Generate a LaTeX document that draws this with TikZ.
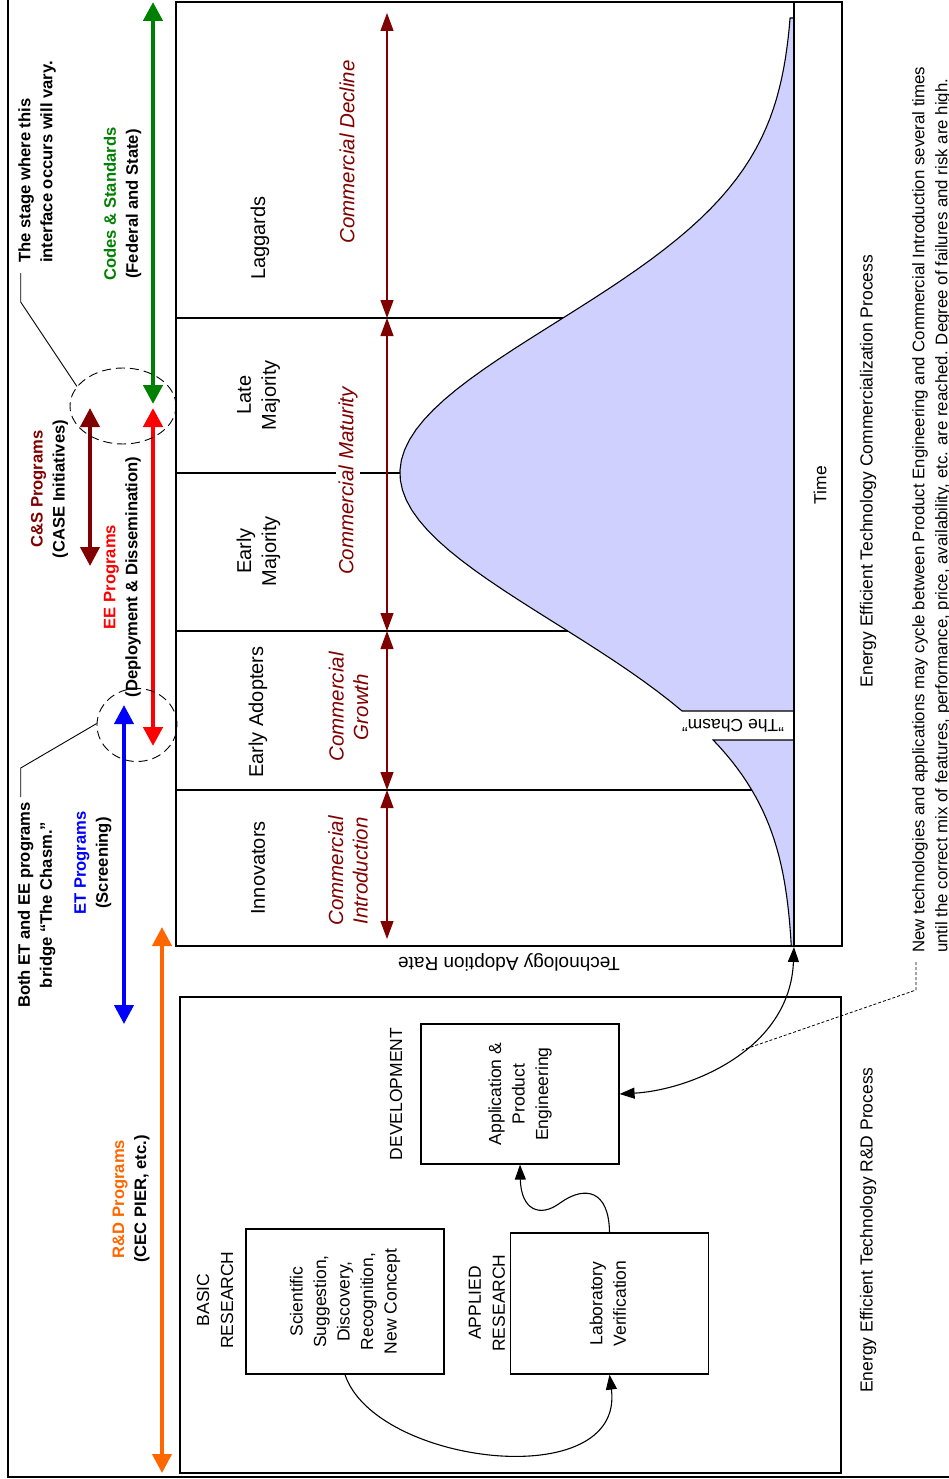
\documentclass[tikz,border=0pt]{standalone}
\usepackage{fontspec}
\usepackage{graphicx}
\setmainfont{Liberation Sans}
\usetikzlibrary{arrows.meta,shapes.geometric}
\definecolor{dred}{RGB}{128,0,0}
\definecolor{ored}{RGB}{255,0,0}
\definecolor{ogreen}{RGB}{0,128,0}
\definecolor{oblue}{RGB}{0,0,255}
\definecolor{orng}{RGB}{255,102,0}
\definecolor{bell}{RGB}{208,208,255}
\begin{document}
\begin{tikzpicture}[x=1pt,y=-1pt,
  txt/.style={font=\fontsize{17.5}{24}\selectfont, rotate=90, align=center, inner sep=1pt},
  flat/.style={font=\fontsize{19}{24}\selectfont, align=center, inner sep=1pt},
  chartlbl/.style={font=\fontsize{20}{25}\selectfont, rotate=90, align=center, inner sep=1pt},
  btxt/.style={font=\fontsize{16.6}{22}\selectfont\bfseries, rotate=90, align=center, inner sep=0pt},
  phase/.style={rotate=90, align=center, inner sep=1pt, text=dred, font=\fontsize{20.5}{24.5}\selectfont\itshape},
  box/.style={draw, line width=1.2pt, inner sep=0pt, font=\fontsize{17.5}{23.5}\selectfont},
  frame/.style={draw, line width=1.2pt},
  divider/.style={draw, line width=1.2pt},
  stagearrow/.style={draw=dred, line width=1.2pt, {Triangle[length=18pt,width=13pt]}-{Triangle[length=18pt,width=13pt]}},
  prog/.style={line width=4.5pt, {Triangle[length=19pt,width=19pt]}-{Triangle[length=19pt,width=19pt]}},
  flow/.style={draw, line width=1.1pt, -{Triangle[length=15pt,width=11pt]}},
  flowboth/.style={draw, line width=1.1pt, {Triangle[length=15pt,width=11pt]}-{Triangle[length=15pt,width=11pt]}},
  leader/.style={draw, line width=0.9pt},
  dashleader/.style={draw, line width=0.8pt, dash pattern=on 3pt off 2pt},
  ring/.style={draw, ellipse, line width=0.9pt, dash pattern=on 9pt off 5pt, inner sep=0pt}
]
\useasboundingbox (0,0) rectangle (949,1479);

% outer frame and boxes
\draw[line width=1.5pt] (8,-10) rectangle (975,1477);
\draw[frame] (176,2) rectangle (842,946);
\draw[frame] (180,997) rectangle (841,1473);

% bell curve
\filldraw[fill=bell, draw=black, line width=1.1pt] (794,18)
  -- plot[domain=18:711, samples=70] ({794-394*exp(-0.5*((\x-473)/150)^2)}, \x)
  -- (794,711) -- cycle;
\filldraw[fill=bell, draw=black, line width=1.1pt] (794,740)
  -- plot[domain=740:946, samples=30] ({794-394*exp(-0.5*((\x-473)/150)^2)}, \x)
  -- (794,946) -- cycle;
\draw[line width=1.2pt] (794,2) -- (794,946);

% stage dividers
\draw[divider] (176,318) -- (563,318);
\draw[divider] (176,473) -- (400,473);
\draw[divider] (176,631) -- (568,631);
\draw[divider] (176,790) -- (752,790);

% stage arrows
\coordinate (s0) at (387,13);
\coordinate (s1) at (387,318);
\coordinate (s2) at (387,631);
\coordinate (s3) at (387,790);
\coordinate (s4) at (387,939);
\draw[stagearrow] (s0) -- (s1);
\draw[stagearrow] (s1) -- (s2);
\draw[stagearrow] (s2) -- (s3);
\draw[stagearrow] (s3) -- (s4);

% adopter labels
\node[chartlbl] (lag) at (260,238) {Laggards};
\node[chartlbl] (late) at (258.5,395) {Late\\Majority};
\node[chartlbl] (early) at (258.5,551) {Early\\Majority};
\node[chartlbl] (adopt) at (258,712) {Early Adopters};
\node[chartlbl] (innov) at (258,868) {Innovators};

% phase labels
\node[phase] (decl) at (347,152) {Commercial Decline};
\node[phase, fill=white, inner sep=2pt] (matur) at (348,481) {Commercial Maturity};
\node[phase] (growth) at (348.5,707) {Commercial\\Growth};
\node[phase] (intro) at (348,871) {Commercial\\Introduction};

\node[txt] (time) at (820,485) {Time};
\node[flat, rotate=180] (rate) at (509,962) {Technology Adoption Rate};
\node[flat, font=\fontsize{17.5}{22}\selectfont, rotate=180] (chasm) at (733,726) {"The Chasm"};

% titles
\node[txt] (ctitle) at (868,471) {Energy Efficient Technology Commercialization Process};
\node[txt] (rtitle) at (868,1230) {Energy Efficient Technology R\&D Process};

% note
\node[rotate=90, anchor=west, align=left, inner sep=0pt, font=\fontsize{16.8}{23}\selectfont] (note) at (931.5,953)
  {New technologies and applications may cycle between Product Engineering and Commercial Introduction several times\\
   until the correct mix of features, performance, price, availability, etc. are reached. Degree of failures and risk are high.};

% program arrows
\coordinate (g1) at (153,2);   \coordinate (g2) at (153,404);
\coordinate (r1) at (153,408); \coordinate (r2) at (153,746);
\coordinate (c1) at (90,408);  \coordinate (c2) at (90,566);
\coordinate (b1) at (124,705); \coordinate (b2) at (124,1024);
\coordinate (o1) at (162,927); \coordinate (o2) at (162,1473);
\draw[prog, ogreen] (g1) -- (g2);
\draw[prog, ored] (r1) -- (r2);
\draw[prog, dred, line width=4pt] (c1) -- (c2);
\draw[prog, oblue, line width=4pt] (b1) -- (b2);
\draw[prog, orng, line width=4pt] (o1) -- (o2);

% interface rings
\node[ring, minimum width=106, minimum height=76] (ringA) at (123,406) {};
\node[ring, minimum width=80, minimum height=73] (ringB) at (137,725) {};

% program labels
\node[btxt, align=left, anchor=west] (stage) at (37,263) {The stage where this\\interface occurs will vary.};
\node[btxt] (codes) at (122.5,204) {\textcolor{ogreen}{Codes \& Standards}\\(Federal and State)};
\node[btxt] (cs) at (49.5,489) {\textcolor{dred}{C\&S Programs}\\(CASE Initiatives)};
\node[btxt] (ee) at (122.5,577) {\textcolor{ored}{EE Programs}\\(Deployment \& Dissemination)};
\node[btxt] (both) at (36.5,905) {Both ET and EE programs\\bridge “The Chasm.”};
\node[btxt] (et) at (93,863) {\textcolor{oblue}{ET Programs}\\(Screening)};
\node[btxt] (rd) at (131,1199) {\textcolor{orng}{R\&D Programs}\\(CEC PIER, etc.)};

% leaders
\coordinate (ldA) at (20.7,273);
\coordinate (ldB) at (20.7,797);
\draw[leader] (ldA) -- ++(0,29) -- (ringA.157);
\draw[leader] (ldB) -- ++(0,-29) -- (ringB.178);

% R&D process
\node[txt] (basic) at (215,1300) {BASIC\\RESEARCH};
\node[txt] (applied) at (487,1303) {APPLIED\\RESEARCH};
\node[txt] (dev) at (396,1094) {DEVELOPMENT};
\node[box, minimum width=198, minimum height=145] (sci) at (345,1301.5)
  {\rotatebox{90}{\begin{tabular}{@{}c@{}}Scientific\\Suggestion,\\Discovery,\\Recognition,\\New Concept\end{tabular}}};
\node[box, minimum width=198, minimum height=141] (lab) at (609.5,1303.5)
  {\rotatebox{90}{\begin{tabular}{@{}c@{}}Laboratory\\Verification\end{tabular}}};
\node[box, minimum width=198, minimum height=140] (app) at (520,1094)
  {\rotatebox{90}{\begin{tabular}{@{}c@{}}Application \&\\Product\\Engineering\end{tabular}}};

\coordinate (bellend) at (794,947);
\draw[flow] (sci.south) .. controls (375,1465) and (625,1495) .. (lab.south);
\draw[flow] (lab.north) .. controls (609,1190) and (585,1185) .. (560,1203)
  .. controls (540,1218) and (521,1210) .. (app.south);
\draw[flowboth] (app.east) .. controls (690,1090) and (790,1050) .. coordinate[pos=0.55] (nl) (bellend);

\coordinate (notestart) at (916,962);
\draw[dashleader] (notestart) -- ++(0,28) -- (nl);
\end{tikzpicture}
\end{document}
